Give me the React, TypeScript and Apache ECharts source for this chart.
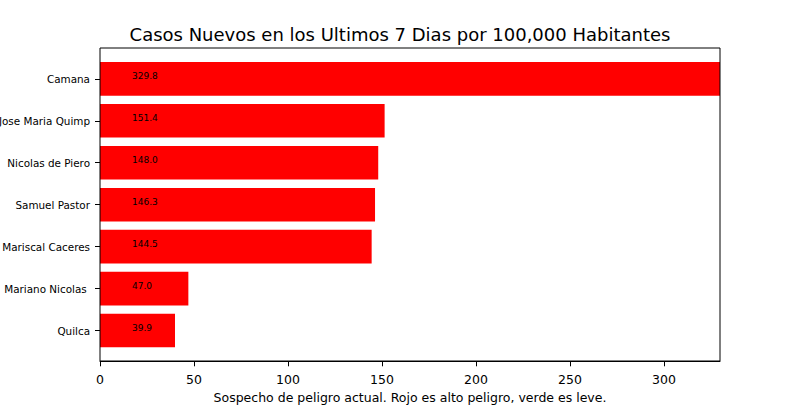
import React, { useEffect, useRef } from "react";
import * as echarts from "echarts";

const categories = [
  "Camana",
  "Jose Maria Quimp",
  "Nicolas de Piero",
  "Samuel Pastor",
  "Mariscal Caceres",
  "Mariano Nicolas ",
  "Quilca",
];
const values = [329.8, 151.4, 148.0, 146.3, 144.5, 47.0, 39.9];
const xTicks = [0, 50, 100, 150, 200, 250, 300];
const titleText = "Casos Nuevos en los Ultimos 7 Dias por 100,000 Habitantes";
const xLabelText = "Sospecho de peligro actual. Rojo es alto peligro, verde es leve.";

const FONT = "DejaVu Sans";

export default function App() {
  const ref = useRef<HTMLDivElement>(null);
  useEffect(() => {
    document.body.style.margin = "0";
    const chart = echarts.init(ref.current!, null, { renderer: "svg" });
    const option: any = {
      animation: false,
      backgroundColor: "#fff",
      title: {
        text: titleText,
        left: "center",
        top: 20,
        textStyle: { fontFamily: FONT, fontSize: 18, fontWeight: "normal", color: "#000" },
      },
      grid: {
        left: 100,
        width: 620,
        top: 57.85,
        height: 293.65,
        containLabel: false,
        outerBoundsMode: "none",
      },
      xAxis: {
        type: "value",
        min: 0,
        max: Math.max(...values),
        offset: 9.8,
        axisLine: { show: true, lineStyle: { color: "#000", width: 1 } },
        axisTick: { show: true, length: 5, lineStyle: { color: "#000" }, customValues: xTicks },
        axisLabel: {
          customValues: xTicks,
          margin: 11.5,
          fontFamily: FONT,
          fontSize: 12.5,
          color: "#000",
        },
        splitLine: { show: false },
        name: xLabelText,
        nameLocation: "middle",
        nameGap: 28.5,
        nameTextStyle: { fontFamily: FONT, fontSize: 12.5, color: "#000" },
      },
      yAxis: {
        type: "category",
        data: categories,
        inverse: true,
        axisLine: { show: false },
        axisTick: { show: true, alignWithLabel: true, length: 5, lineStyle: { color: "#000" } },
        axisLabel: {
          margin: 10,
          fontFamily: FONT,
          fontSize: 10.4,
          color: "#000",
          padding: [2, 0, 0, 0],
        },
      },
      graphic: [
        {
          type: "rect",
          shape: { x: 100, y: 48, width: 620, height: 313 },
          style: { fill: "none", stroke: "#000", lineWidth: 1 },
          z: 100,
          silent: true,
        },
      ],
      series: [
        {
          type: "bar",
          data: values,
          barWidth: 33.6,
          itemStyle: { color: "#ff0000" },
          label: {
            show: true,
            position: [32, 14],
            align: "left",
            verticalAlign: "middle",
            fontFamily: FONT,
            fontSize: 9,
            color: "#000",
            formatter: (p: any) => Number(p.value).toFixed(1),
          },
        },
      ],
    };
    chart.setOption(option);
    return () => chart.dispose();
  }, []);
  return <div ref={ref} style={{ width: 800, height: 406 }} />;
}
